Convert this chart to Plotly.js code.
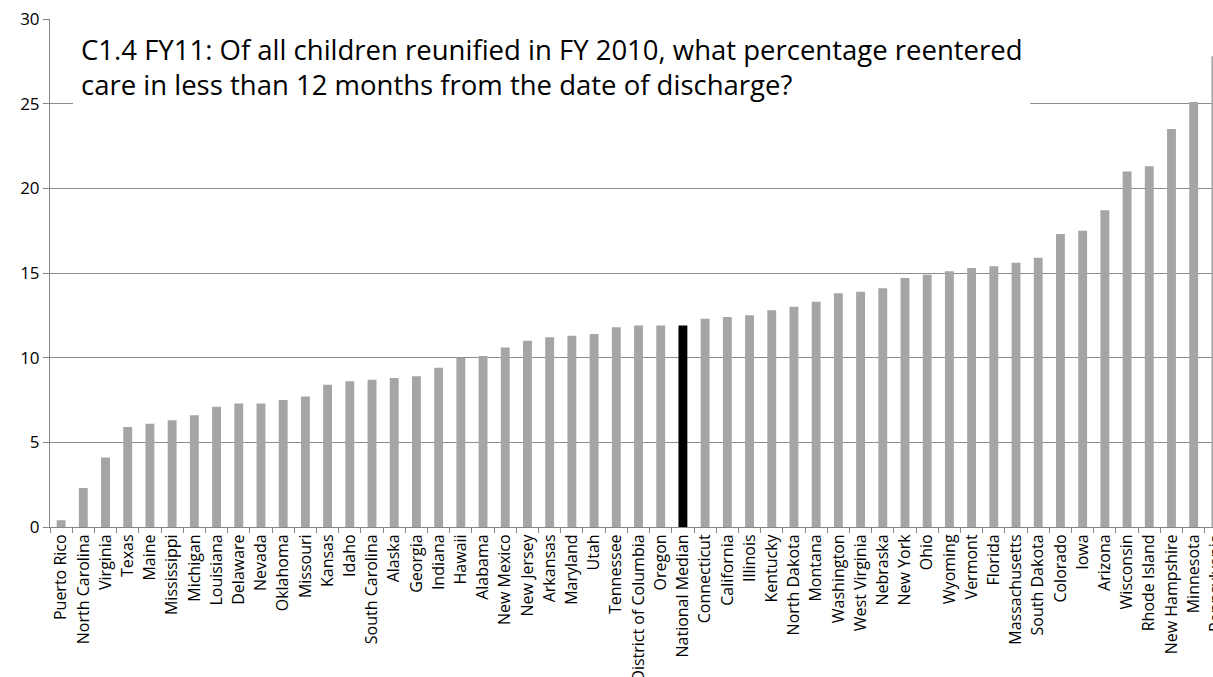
<!DOCTYPE html>
<html>
<head>
<meta charset="utf-8">
<script src="https://cdn.plot.ly/plotly-3.0.1.min.js"></script>
<style>
html, body { margin: 0; padding: 0; overflow: hidden; background: #fff; }
#chart { width: 1240px; height: 677px; }
</style>
</head>
<body>
<div id="chart"></div>
<script>
const states = ["Puerto Rico","North Carolina","Virginia","Texas","Maine","Mississippi","Michigan","Louisiana","Delaware","Nevada","Oklahoma","Missouri","Kansas","Idaho","South Carolina","Alaska","Georgia","Indiana","Hawaii","Alabama","New Mexico","New Jersey","Arkansas","Maryland","Utah","Tennessee","District of Columbia","Oregon","National Median","Connecticut","California","Illinois","Kentucky","North Dakota","Montana","Washington","West Virginia","Nebraska","New York","Ohio","Wyoming","Vermont","Florida","Massachusetts","South Dakota","Colorado","Iowa","Arizona","Wisconsin","Rhode Island","New Hampshire","Minnesota","Pennsylvania"];
const reentryPct = [0.4,2.3,4.1,5.9,6.1,6.3,6.6,7.1,7.3,7.3,7.5,7.7,8.4,8.6,8.7,8.8,8.9,9.4,10.0,10.1,10.6,11.0,11.2,11.3,11.4,11.8,11.9,11.9,11.9,12.3,12.4,12.5,12.8,13.0,13.3,13.8,13.9,14.1,14.7,14.9,15.1,15.3,15.4,15.6,15.9,17.3,17.5,18.7,21.0,21.3,23.5,25.1,27.8];
const yTicks = [0,5,10,15,20,25,30];
const titleLines = ["C1.4 FY11: Of all children reunified in FY 2010, what percentage reentered",
                    "care in less than 12 months from the date of discharge?"];

const barColors = states.map(s => s === "National Median" ? "#000000" : "#A5A5A5");
const font = "'Open Sans', sans-serif";

const trace = {
  type: "bar",
  x: states,
  y: reentryPct,
  marker: { color: barColors, line: { width: 0 } },
  hoverinfo: "x+y"
};

const layout = {
  width: 1240,
  height: 677,
  margin: { l: 50, r: 13, t: 19, b: 150 },
  paper_bgcolor: "#ffffff",
  plot_bgcolor: "#ffffff",
  bargap: 0.6,
  showlegend: false,
  font: { family: font, color: "#000000" },
  xaxis: {
    type: "category",
    range: [-0.5, states.length - 0.5],
    tickangle: -90,
    tickfont: { family: font, size: 16, color: "#000000" },
    showline: true,
    linecolor: "#868686",
    linewidth: 1,
    ticks: "outside",
    tickson: "boundaries",
    ticklen: 5,
    tickcolor: "#868686",
    showgrid: false,
    zeroline: false,
    fixedrange: true
  },
  yaxis: {
    range: [0, 30],
    tickvals: yTicks,
    ticktext: yTicks.map(String),
    tickfont: { family: font, size: 17, color: "#000000" },
    showline: true,
    linecolor: "#868686",
    linewidth: 1,
    ticks: "outside",
    ticklen: 6,
    tickcolor: "#868686",
    showgrid: true,
    gridcolor: "#8c8c8c",
    gridwidth: 1,
    zeroline: false,
    fixedrange: true
  },
  shapes: [{
    type: "rect",
    xref: "x", yref: "y",
    x0: 0.536, x1: 43.64,
    y0: 24.75, y1: 29.9,
    fillcolor: "#ffffff",
    line: { width: 0 },
    layer: "between"
  }],
  annotations: [
    { text: titleLines[0], xref: "x", yref: "y", x: 0.81, y: 28.17, xanchor: "left", yanchor: "middle",
      showarrow: false, font: { family: font, size: 27.5, color: "#000000" } },
    { text: titleLines[1], xref: "x", yref: "y", x: 0.81, y: 26.16, xanchor: "left", yanchor: "middle",
      showarrow: false, font: { family: font, size: 27.5, color: "#000000" } }
  ]
};

Plotly.newPlot("chart", [trace], layout, { displayModeBar: false, staticPlot: true });
</script>
</body>
</html>
